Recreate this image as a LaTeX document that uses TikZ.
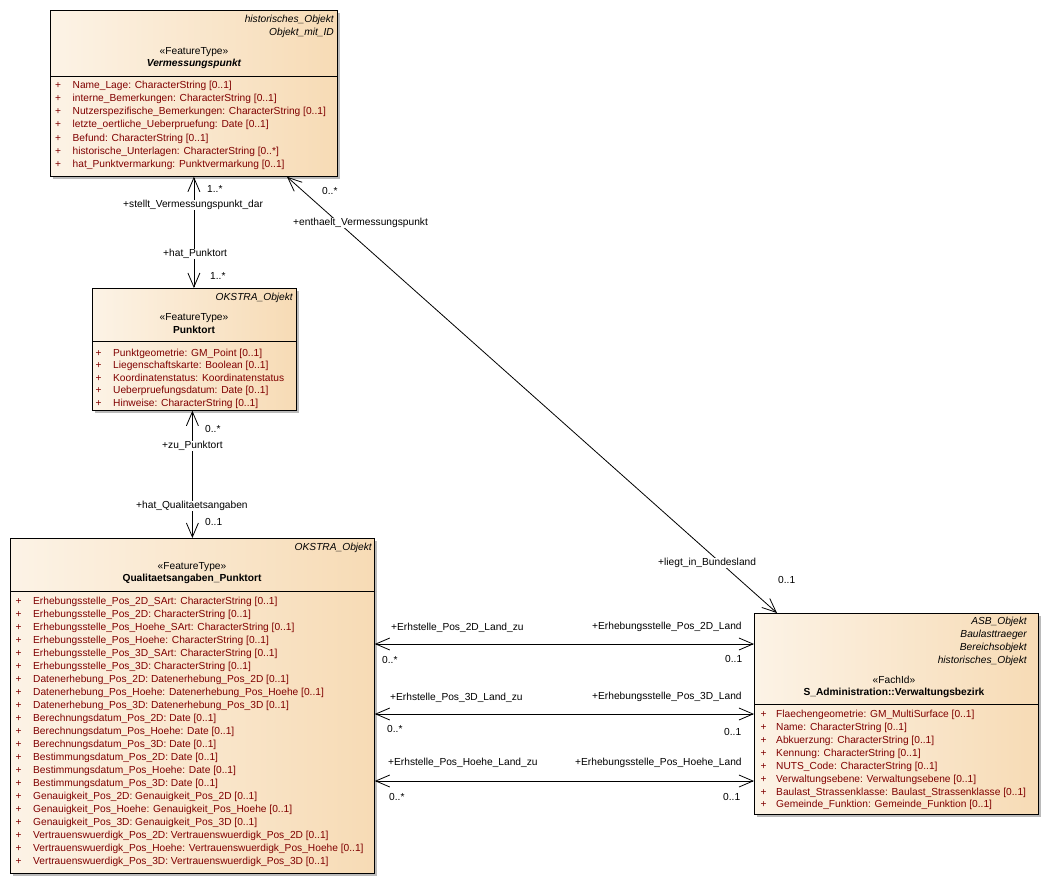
\documentclass[tikz,border=0pt]{standalone}
\usepackage{fontspec}
\setmainfont{Liberation Sans}
\usetikzlibrary{arrows.meta,shadows,calc}
\definecolor{clsL}{RGB}{252,243,230}
\definecolor{clsR}{RGB}{247,219,181}
\definecolor{attrc}{RGB}{128,0,0}
\newcommand{\fsz}{\fontsize{10.2}{12.4}\selectfont}
\tikzset{
  classbox/.style={draw=black, line width=0.8pt, left color=clsL, right color=clsR,
    inner sep=0pt, anchor=north west,
    drop shadow={shadow xshift=3pt, shadow yshift=-3pt, fill=black!45, opacity=0.6}},
  sepline/.style={line width=0.8pt},
  txt/.style={inner sep=0pt, text height=7.5pt, text depth=2.2pt},
  hdr/.style={txt, font=\fsz\itshape, anchor=east},
  stereo/.style={txt, font=\fsz},
  cname/.style={txt, font=\fsz\bfseries},
  cnameit/.style={txt, font=\fsz\bfseries\itshape},
  attr/.style={txt, font=\fsz, text=attrc, anchor=west},
  assoc/.style={line width=0.8pt,
    {Straight Barb[length=14pt,width=12pt]}-{Straight Barb[length=14pt,width=12pt]}},
  role/.style={txt, font=\fsz, anchor=west, fill=white, inner xsep=1pt},
  mult/.style={txt, font=\fsz, anchor=west}
}
\begin{document}
\begin{tikzpicture}[x=1pt,y=-1pt]
\useasboundingbox (0,0) rectangle (1041,883);

% ---------- Vermessungspunkt ----------
\node[classbox, minimum width=287pt, minimum height=166pt] (vp) at (50,10) {};
\draw[sepline] (vp.west |- 0,76) -- (vp.east |- 0,76);
\node[hdr] (vph1) at (334,20) {historisches\_Objekt};
\node[hdr] (vph2) at (334,33) {Objekt\_mit\_ID};
\node[stereo] (vpst) at (194,52) {«FeatureType»};
\node[cnameit] (vpn) at (194,64) {Vermessungspunkt};
\foreach \t [count=\i] in {
  {Name\_Lage: CharacterString [0..1]},
  {interne\_Bemerkungen: CharacterString [0..1]},
  {Nutzerspezifische\_Bemerkungen: CharacterString [0..1]},
  {letzte\_oertliche\_Ueberpruefung: Date [0..1]},
  {Befund: CharacterString [0..1]},
  {historische\_Unterlagen: CharacterString [0..*]},
  {hat\_Punktvermarkung: Punktvermarkung [0..1]}}
  \node[attr] (vpa\i) at (55,{86+13.1*(\i-1)}) {\makebox[17.5pt][l]{+}\t};

% ---------- Punktort ----------
\node[classbox, minimum width=204pt, minimum height=122pt] (pk) at (92,288) {};
\draw[sepline] (pk.west |- 0,341) -- (pk.east |- 0,341);
\node[hdr] (pkh1) at (293,298) {OKSTRA\_Objekt};
\node[stereo] (pkst) at (194,318) {«FeatureType»};
\node[cname] (pkn) at (194,331) {Punktort};
\foreach \t [count=\i] in {
  {Punktgeometrie: GM\_Point [0..1]},
  {Liegenschaftskarte: Boolean [0..1]},
  {Koordinatenstatus: Koordinatenstatus},
  {Ueberpruefungsdatum: Date [0..1]},
  {Hinweise: CharacterString [0..1]}}
  \node[attr] (pka\i) at (95.5,{353.5+12.6*(\i-1)}) {\makebox[17.5pt][l]{+}\t};

% ---------- Qualitaetsangaben_Punktort ----------
\node[classbox, minimum width=364pt, minimum height=335pt] (qa) at (10,538) {};
\draw[sepline] (qa.west |- 0,591) -- (qa.east |- 0,591);
\node[hdr] (qah1) at (372,548) {OKSTRA\_Objekt};
\node[stereo] (qast) at (192,567) {«FeatureType»};
\node[cname] (qan) at (192,579) {Qualitaetsangaben\_Punktort};
\foreach \t [count=\i] in {
  {Erhebungsstelle\_Pos\_2D\_SArt: CharacterString [0..1]},
  {Erhebungsstelle\_Pos\_2D: CharacterString [0..1]},
  {Erhebungsstelle\_Pos\_Hoehe\_SArt: CharacterString [0..1]},
  {Erhebungsstelle\_Pos\_Hoehe: CharacterString [0..1]},
  {Erhebungsstelle\_Pos\_3D\_SArt: CharacterString [0..1]},
  {Erhebungsstelle\_Pos\_3D: CharacterString [0..1]},
  {Datenerhebung\_Pos\_2D: Datenerhebung\_Pos\_2D [0..1]},
  {Datenerhebung\_Pos\_Hoehe: Datenerhebung\_Pos\_Hoehe [0..1]},
  {Datenerhebung\_Pos\_3D: Datenerhebung\_Pos\_3D [0..1]},
  {Berechnungsdatum\_Pos\_2D: Date [0..1]},
  {Berechnungsdatum\_Pos\_Hoehe: Date [0..1]},
  {Berechnungsdatum\_Pos\_3D: Date [0..1]},
  {Bestimmungsdatum\_Pos\_2D: Date [0..1]},
  {Bestimmungsdatum\_Pos\_Hoehe: Date [0..1]},
  {Bestimmungsdatum\_Pos\_3D: Date [0..1]},
  {Genauigkeit\_Pos\_2D: Genauigkeit\_Pos\_2D [0..1]},
  {Genauigkeit\_Pos\_Hoehe: Genauigkeit\_Pos\_Hoehe [0..1]},
  {Genauigkeit\_Pos\_3D: Genauigkeit\_Pos\_3D [0..1]},
  {Vertrauenswuerdigk\_Pos\_2D: Vertrauenswuerdigk\_Pos\_2D [0..1]},
  {Vertrauenswuerdigk\_Pos\_Hoehe: Vertrauenswuerdigk\_Pos\_Hoehe [0..1]},
  {Vertrauenswuerdigk\_Pos\_3D: Vertrauenswuerdigk\_Pos\_3D [0..1]}}
  \node[attr] (qaa\i) at (15.5,{602+13*(\i-1)}) {\makebox[17.5pt][l]{+}\t};

% ---------- S_Administration::Verwaltungsbezirk ----------
\node[classbox, minimum width=284pt, minimum height=201pt] (vb) at (754,613) {};
\draw[sepline] (vb.west |- 0,704) -- (vb.east |- 0,704);
\node[hdr] (vbh1) at (1027,622) {ASB\_Objekt};
\node[hdr] (vbh2) at (1027,635) {Baulasttraeger};
\node[hdr] (vbh3) at (1027,648) {Bereichsobjekt};
\node[hdr] (vbh4) at (1027,661) {historisches\_Objekt};
\node[stereo] (vbst) at (894,681) {«FachId»};
\node[cname] (vbn) at (894,693) {S\_Administration::Verwaltungsbezirk};
\foreach \t [count=\i] in {
  {Flaechengeometrie: GM\_MultiSurface [0..1]},
  {Name: CharacterString [0..1]},
  {Abkuerzung: CharacterString [0..1]},
  {Kennung: CharacterString [0..1]},
  {NUTS\_Code: CharacterString [0..1]},
  {Verwaltungsebene: Verwaltungsebene [0..1]},
  {Baulast\_Strassenklasse: Baulast\_Strassenklasse [0..1]},
  {Gemeinde\_Funktion: Gemeinde\_Funktion [0..1]}}
  \node[attr] (vba\i) at (760.5,{715+12.9*(\i-1)}) {\makebox[15.5pt][l]{+}\t};

% ---------- connectors ----------
\draw[assoc] (vp.south) -- (vp.south |- pk.north);
\draw[assoc] (pk.south -| qa.north) -- (qa.north);
\draw[assoc] ($(vp.south west)+(237,0)$) -- ($(vb.north west)+(23,0)$);
\draw[assoc] (qa.east |- 0,644) -- (vb.west |- 0,644);
\draw[assoc] (qa.east |- 0,714) -- (vb.west |- 0,714);
\draw[assoc] (qa.east |- 0,781) -- (vb.west |- 0,781);

% ---------- connector labels ----------
\node[mult] (m1) at (207,190) {1..*};
\node[role] (r1) at (122,205) {+stellt\_Vermessungspunkt\_dar};
\node[role] (r2) at (162,254) {+hat\_Punktort};
\node[mult] (m2) at (210,277) {1..*};

\node[mult] (m3) at (205,430) {0..*};
\node[role] (r3) at (161,446) {+zu\_Punktort};
\node[role] (r4) at (135,506) {+hat\_Qualitaetsangaben};
\node[mult] (m4) at (205,523) {0..1};

\node[mult] (m5) at (322,192) {0..*};
\node[role] (r5) at (292,223) {+enthaelt\_Vermessungspunkt};
\node[role] (r6) at (657,563) {+liegt\_in\_Bundesland};
\node[mult] (m6) at (778,581) {0..1};

\node[mult] (m7) at (382,661) {0..*};
\node[mult] (m8) at (725,660) {0..1};
\node[mult] (r7) at (391,628) {+Erhstelle\_Pos\_2D\_Land\_zu};
\node[mult] (r8) at (592,627) {+Erhebungsstelle\_Pos\_2D\_Land};

\node[mult] (m9) at (387,730) {0..*};
\node[mult] (m10) at (724,733) {0..1};
\node[mult] (r9) at (390,698) {+Erhstelle\_Pos\_3D\_Land\_zu};
\node[mult] (r10) at (592,697) {+Erhebungsstelle\_Pos\_3D\_Land};

\node[mult] (m11) at (389,798) {0..*};
\node[mult] (m12) at (723,798) {0..1};
\node[mult] (r11) at (388,763) {+Erhstelle\_Pos\_Hoehe\_Land\_zu};
\node[mult] (r12) at (575,763) {+Erhebungsstelle\_Pos\_Hoehe\_Land};
\end{tikzpicture}
\end{document}
